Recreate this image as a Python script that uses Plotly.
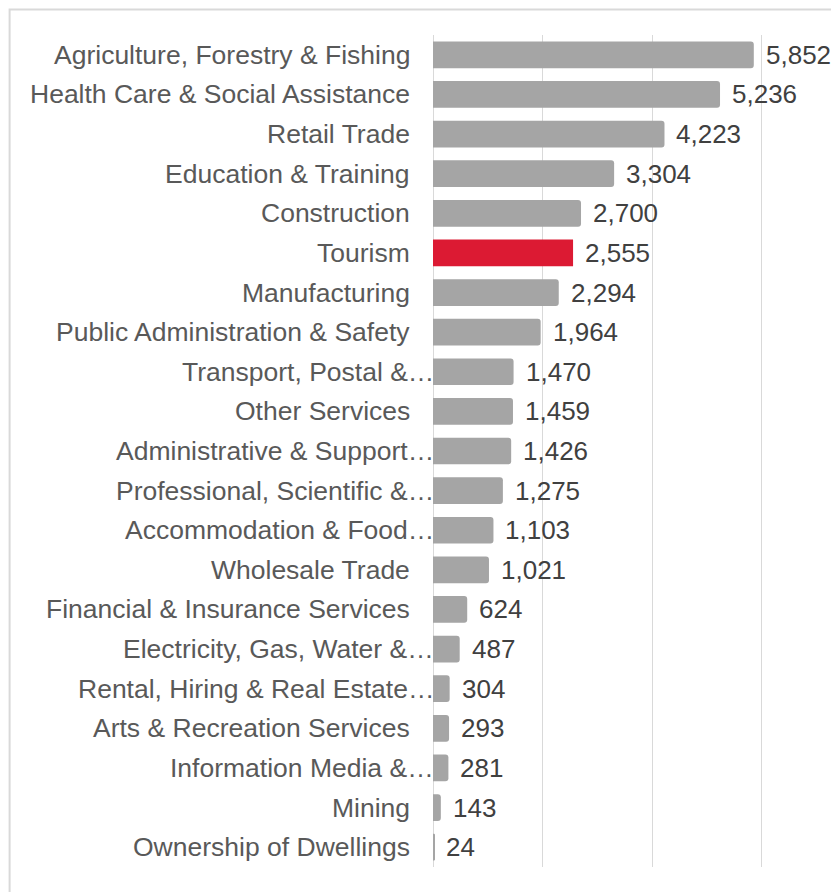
import plotly.graph_objects as go

categories = [
    "Agriculture, Forestry & Fishing",
    "Health Care & Social Assistance",
    "Retail Trade",
    "Education & Training",
    "Construction",
    "Tourism",
    "Manufacturing",
    "Public Administration & Safety",
    "Transport, Postal &…",
    "Other Services",
    "Administrative & Support…",
    "Professional, Scientific &…",
    "Accommodation & Food…",
    "Wholesale Trade",
    "Financial & Insurance Services",
    "Electricity, Gas, Water &…",
    "Rental, Hiring & Real Estate…",
    "Arts & Recreation Services",
    "Information Media &…",
    "Mining",
    "Ownership of Dwellings",
]
values = [5852, 5236, 4223, 3304, 2700, 2555, 2294, 1964, 1470, 1459,
          1426, 1275, 1103, 1021, 624, 487, 304, 293, 281, 143, 24]
highlight = "Tourism"

FONT = "Liberation Sans, Arial, sans-serif"
GRID = "#D9D9D9"

gray_y = [c for c in categories if c != highlight]
gray_x = [v for c, v in zip(categories, values) if c != highlight]
red_x = [v for c, v in zip(categories, values) if c == highlight]

fig = go.Figure()
fig.add_trace(go.Bar(
    y=gray_y, x=gray_x, orientation="h",
    marker=dict(color="#A5A5A5", cornerradius=3, line_width=0),
    hoverinfo="skip",
))
fig.add_trace(go.Bar(
    y=[highlight], x=red_x, orientation="h",
    marker=dict(color="#DC1A33", line_width=0),
    hoverinfo="skip",
))

# category labels (truncated ones run right up to the axis)
for c in categories:
    fig.add_annotation(
        x=0, y=c, xref="x", yref="y", text=c, showarrow=False,
        xanchor="right", yanchor="middle",
        xshift=3 if c.endswith("…") else -21,
        font=dict(family=FONT, size=26.5, color="#595959"),
    )

# value labels
for c, v in zip(categories, values):
    fig.add_annotation(
        x=v, y=c, xref="x", yref="y", text=f"{v:,}", showarrow=False,
        xanchor="left", yanchor="middle", xshift=10,
        font=dict(family=FONT, size=26, color="#404040"),
    )

# outer chart border
fig.add_shape(
    type="rect", xref="paper", yref="paper",
    x0=-1.283, x1=1.5, y0=-0.1, y1=1.0306,
    line=dict(color=GRID, width=2), fillcolor="rgba(0,0,0,0)", layer="below",
)

fig.update_layout(
    width=839, height=892,
    margin=dict(l=424.5, r=84.2, t=27, b=33),
    paper_bgcolor="white", plot_bgcolor="white",
    barmode="overlay", bargap=0.326,
    showlegend=False,
    font=dict(family=FONT),
)
fig.update_xaxes(
    range=[0, 6020], tickvals=[0, 2000, 4000, 6000], showgrid=True,
    gridcolor=GRID, gridwidth=1,
    showticklabels=False, zeroline=True, zerolinecolor=GRID, zerolinewidth=1,
    showline=False, fixedrange=True,
)
fig.update_yaxes(
    categoryorder="array", categoryarray=categories, autorange="reversed",
    showticklabels=False, showgrid=False, zeroline=False, showline=False,
    fixedrange=True,
)

fig.write_html("out.html", config={"displayModeBar": False})
